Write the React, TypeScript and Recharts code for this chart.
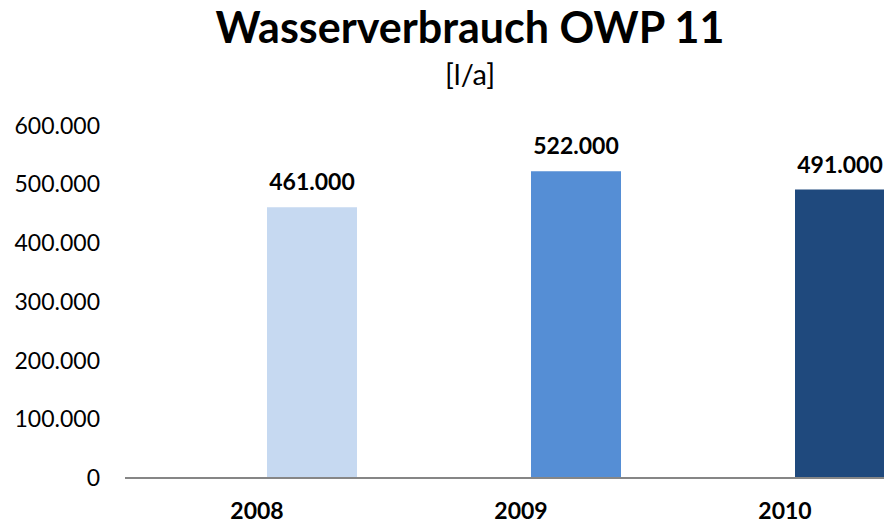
import React from 'react';
import { BarChart, Bar, XAxis, YAxis, Cell, LabelList } from 'recharts';

const years = ['2008', '2009', '2010'];
const verbrauch = [461000, 522000, 491000];
// second, empty series: the original chart keeps a blank slot left of each bar
const leer = [null, null, null];
const yTicks = [0, 100000, 200000, 300000, 400000, 500000, 600000];
const barColors = ['#C6D9F1', '#558ED5', '#1F497D'];

const fmt = (v: number) => String(v).replace(/\B(?=(\d{3})+(?!\d))/g, '.');

const font = 'Lato, "Noto Sans", sans-serif';

const App: React.FC = () => {
  const data = years.map((year, i) => ({
    year,
    leer: leer[i],
    verbrauch: verbrauch[i],
  }));

  return (
    <div
      style={{
        position: 'absolute',
        left: 0,
        top: 0,
        width: 884,
        height: 522,
        overflow: 'hidden',
        background: '#fff',
        fontFamily: font,
      }}
    >
      <div
        style={{
          position: 'absolute',
          top: 5,
          left: 0,
          width: 940,
          textAlign: 'center',
          fontSize: 43,
          fontWeight: 700,
          lineHeight: 1,
          color: '#000',
        }}
      >
        Wasserverbrauch OWP 11
      </div>
      <div
        style={{
          position: 'absolute',
          top: 57,
          left: 0,
          width: 940,
          textAlign: 'center',
          fontSize: 29,
          lineHeight: 1.2,
          color: '#000',
        }}
      >
        [l/a]
      </div>
      <div style={{ position: 'absolute', left: 0, top: 0 }}>
        <BarChart
          width={917}
          height={522}
          data={data}
          margin={{ top: 125.5, right: 0, bottom: 0, left: 0 }}
          barSize={90}
          barGap={20}
        >
          <XAxis
            dataKey="year"
            height={44}
            tickLine={false}
            tickSize={0}
            tickMargin={25}
            axisLine={{ stroke: '#868686', strokeWidth: 2 }}
            tick={{ fill: '#000', fontSize: 23, fontWeight: 700, fontFamily: font }}
          />
          <YAxis
            width={125}
            domain={[0, 600000]}
            ticks={yTicks}
            tickFormatter={fmt}
            axisLine={false}
            tickLine={false}
            tickSize={0}
            tickMargin={25}
            tick={{ fill: '#000', fontSize: 23, fontFamily: font }}
            interval={0}
          />
          <Bar dataKey="leer" isAnimationActive={false} fill="none" />
          <Bar dataKey="verbrauch" isAnimationActive={false}>
            {data.map((d, i) => (
              <Cell key={d.year} fill={barColors[i]} />
            ))}
            <LabelList
              dataKey="verbrauch"
              position="top"
              offset={17}
              formatter={(v: any) => fmt(Number(v))}
              style={{ fill: '#000', fontSize: 23, fontWeight: 700, fontFamily: font }}
            />
          </Bar>
        </BarChart>
      </div>
    </div>
  );
};

export default App;
